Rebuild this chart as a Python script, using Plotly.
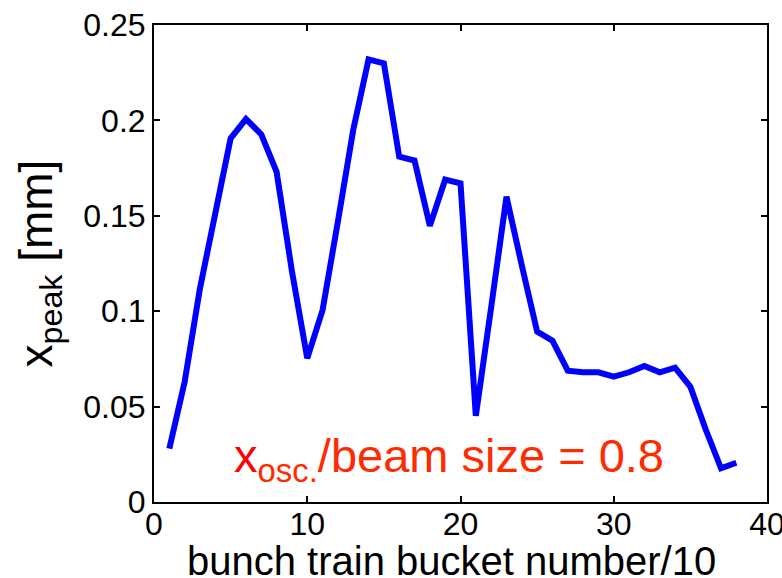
import plotly.graph_objects as go

bucket = list(range(1, 39))
x_peak = [0.028, 0.063, 0.112, 0.151, 0.1906, 0.2007, 0.1927, 0.173, 0.121, 0.0753,
          0.1006, 0.147, 0.195, 0.232, 0.2299, 0.181, 0.179, 0.1447, 0.169, 0.167,
          0.0452, 0.102, 0.160, 0.124, 0.0893, 0.0846, 0.0688, 0.068, 0.068, 0.0657,
          0.068, 0.0713, 0.068, 0.0704, 0.0604, 0.038, 0.0177, 0.0206]

x_ticks = [0, 10, 20, 30, 40]
y_ticks = [0, 0.05, 0.1, 0.15, 0.2, 0.25]
y_tick_text = ["0", "0.05", "0.1", "0.15", "0.2", "0.25"]
x_title = "bunch train bucket number/10"

FONT = "Liberation Sans, Arial, Helvetica, sans-serif"

fig = go.Figure()
fig.add_trace(go.Scatter(x=bucket, y=x_peak, mode="lines",
                         line=dict(color="#0000ff", width=6), showlegend=False))

axis_common = dict(showline=True, linecolor="black", linewidth=2, mirror="ticks",
                   ticks="inside", ticklen=6, tickwidth=1.5, tickcolor="black",
                   showgrid=False, zeroline=False, automargin=False,
                   ticklabeloverflow="allow",
                   tickfont=dict(family=FONT, size=32, color="black"))

fig.update_xaxes(range=[0, 40], tickvals=x_ticks, ticklabelstandoff=-7,
                 **axis_common)
fig.update_yaxes(range=[0, 0.25], tickvals=y_ticks, ticktext=y_tick_text,
                 title=dict(text="x<sub>peak</sub> [mm]",
                            font=dict(family=FONT, size=46, color="black"), standoff=16),
                 **axis_common)

fig.add_annotation(x=0.485, y=-0.123, xref="paper", yref="paper",
                   xanchor="center", yanchor="middle", showarrow=False,
                   text=x_title, font=dict(family=FONT, size=40, color="black"))

fig.add_annotation(x=5.1, y=0.0225, xref="x", yref="y", xanchor="left", yanchor="middle",
                   showarrow=False,
                   text="<span style='color:#ff0000'>x</span><sub>osc.</sub>/beam size = 0.8",
                   font=dict(family=FONT, size=47, color="#ff2a00"))

fig.update_layout(width=782, height=578, margin=dict(l=154, r=15, t=25, b=76),
                  paper_bgcolor="white", plot_bgcolor="white")

fig.write_html("out.html")
